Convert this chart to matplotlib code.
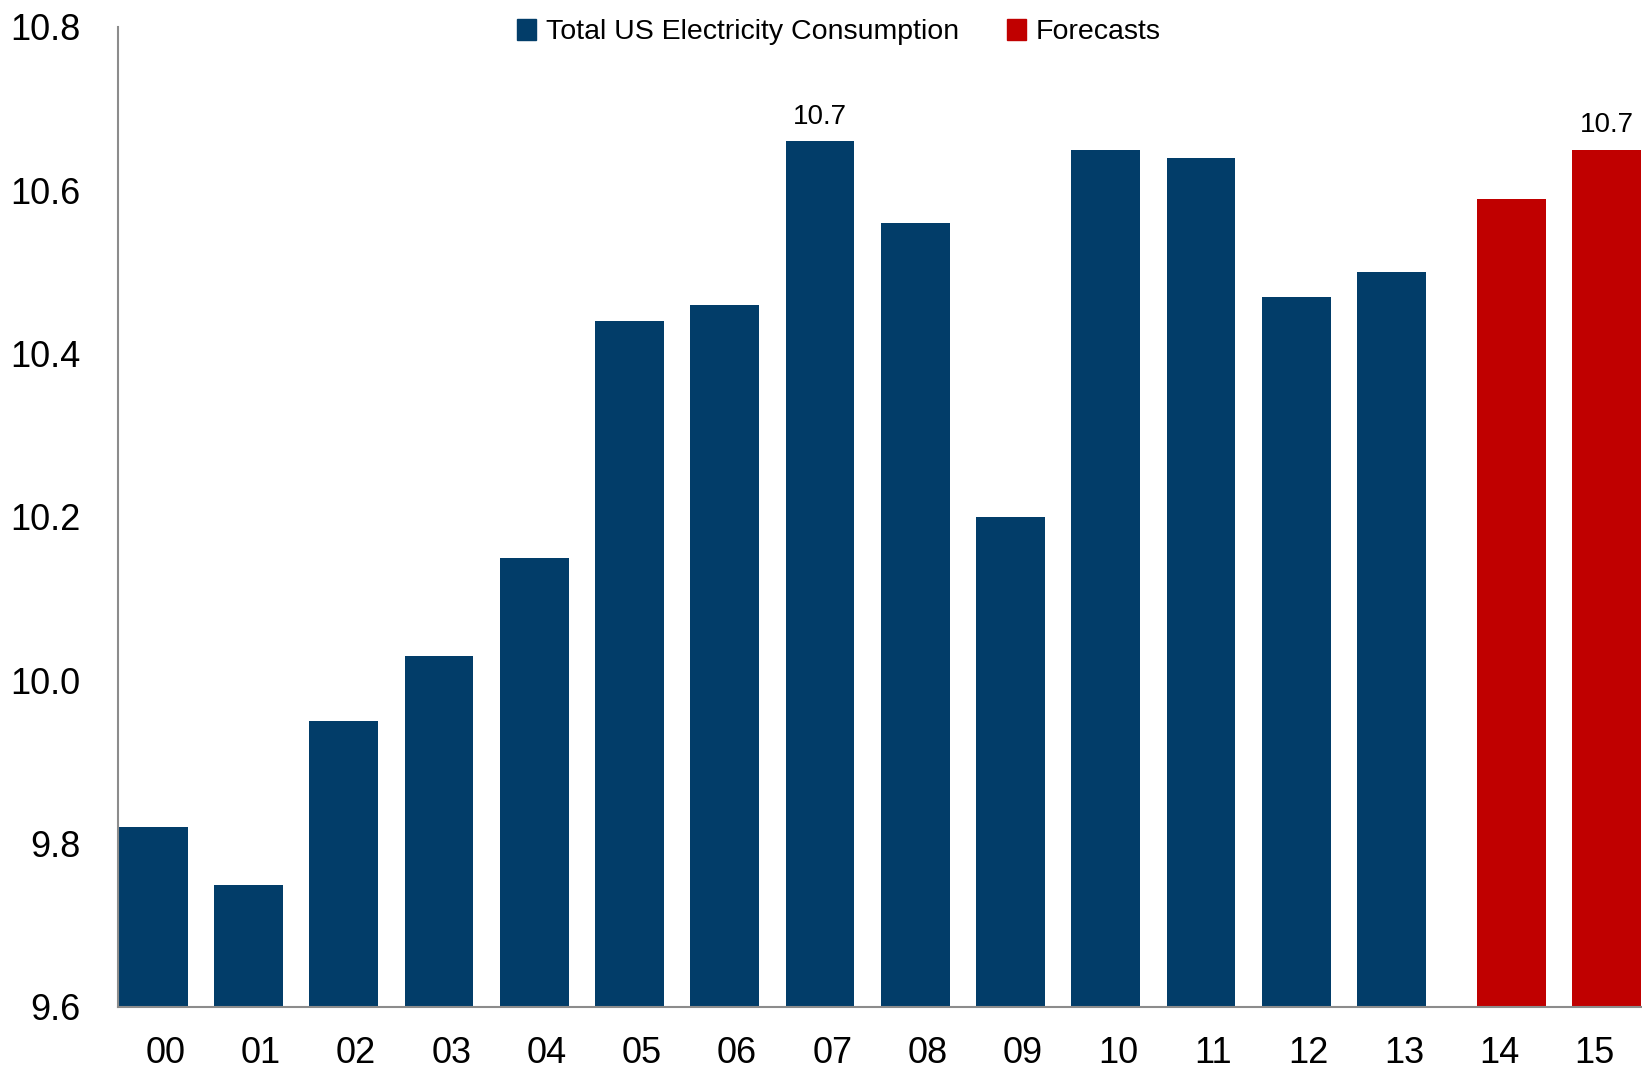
import numpy as np
import matplotlib
matplotlib.use("Agg")
import matplotlib.pyplot as plt
from matplotlib.patches import Patch

# year labels (2000-2015)
years = ["00", "01", "02", "03", "04", "05", "06", "07",
         "08", "09", "10", "11", "12", "13", "14", "15"]
# total US electricity consumption, actuals 2000-2013
actual = [9.82, 9.75, 9.95, 10.03, 10.15, 10.44, 10.46, 10.66,
          10.56, 10.20, 10.65, 10.64, 10.47, 10.50]
# forecasts 2014-2015
forecast = [10.59, 10.65]
# bars that carry a value label
labelled = {"07": "10.7", "15": "10.7"}

blue = "#023d69"
red = "#c00000"

plt.rcParams["font.family"] = ["Liberation Sans", "DejaVu Sans"]

fig = plt.figure(figsize=(16.42, 10.75), dpi=100)
ax = fig.add_axes([118 / 1642, 68 / 1075, 1524 / 1642, 980 / 1075])

x = np.arange(len(years))
xa = x[:len(actual)]
xf = x[len(actual):]
bars_a = ax.bar(xa - 0.13, actual, width=0.72, color=blue, linewidth=0)
bars_f = ax.bar(xf + 0.13, forecast, width=0.72, color=red, linewidth=0)

for b, yr in zip(list(bars_a) + list(bars_f), years):
    if yr in labelled:
        ax.annotate(labelled[yr], (b.get_x() + b.get_width() / 2, b.get_height()),
                    xytext=(0, 8), textcoords="offset points",
                    ha="center", va="bottom", fontsize=20)

ax.set_ylim(9.6, 10.8)
ax.set_xlim(-0.5, 15.5)
ax.set_yticks([9.6, 9.8, 10.0, 10.2, 10.4, 10.6, 10.8])
ax.set_yticklabels(["9.6", "9.8", "10.0", "10.2", "10.4", "10.6", "10.8"])
ax.set_xticks(x)
ax.set_xticklabels(years)
ax.tick_params(axis="y", length=0, pad=27, labelsize=26)
ax.tick_params(axis="x", length=0, pad=21, labelsize=26)

for s in ["top", "right"]:
    ax.spines[s].set_visible(False)
ax.spines["left"].set_color("#8c8c8c")
ax.spines["bottom"].set_color("#8c8c8c")
ax.spines["left"].set_linewidth(1.5)
ax.spines["bottom"].set_linewidth(1.5)

handles = [Patch(color=blue, label="Total US Electricity Consumption"),
           Patch(color=red, label="Forecasts")]
fig.legend(handles=handles, loc="center", bbox_to_anchor=(839 / 1642, 1 - 32 / 1075),
           ncol=2, frameon=False, fontsize=20.5,
           handlelength=0.67, handleheight=0.77, handletextpad=0.35,
           columnspacing=1.68, borderpad=0)

fig.savefig("out.png", dpi=100)
